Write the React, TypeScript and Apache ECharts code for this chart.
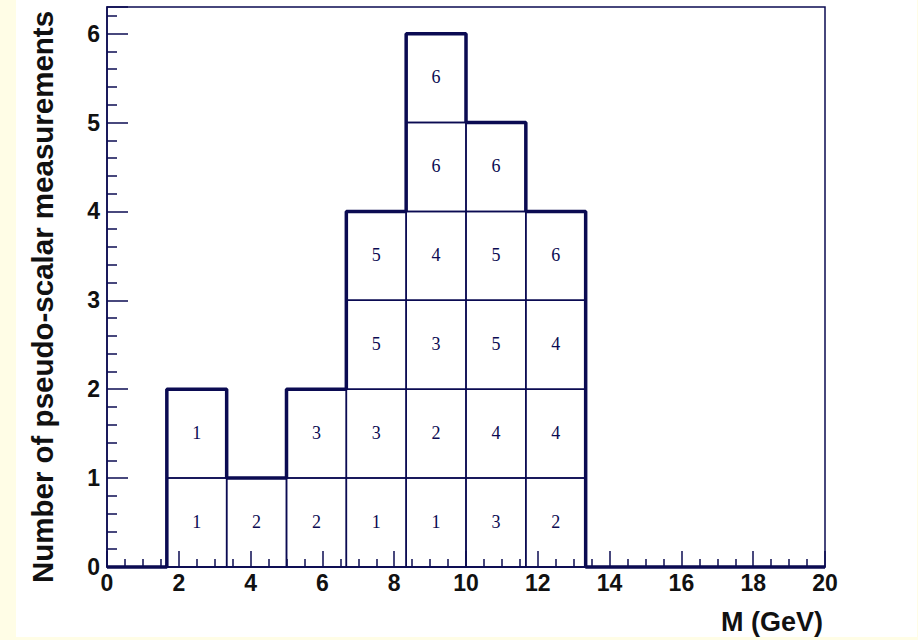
import React, { useEffect, useRef } from "react";
import * as echarts from "echarts";

// Histogram of pseudo-scalar mass measurements: 12 bins over 0–20 GeV.
const xMin = 0;
const xMax = 20;
const binCount = 12;
const counts = [0, 2, 1, 2, 4, 6, 5, 4, 0, 0, 0, 0];

// Identifier printed in each stacked unit cell, bottom to top, per bin.
const cellLabels: number[][] = [
  [],
  [1, 1],
  [2],
  [2, 3],
  [1, 3, 5, 5],
  [1, 2, 3, 4, 6, 6],
  [3, 4, 5, 5, 6],
  [2, 4, 4, 6],
  [],
  [],
  [],
  [],
];

const yMax = 6.3;
const xTitle = "M (GeV)";
const yTitle = "Number of pseudo-scalar measurements";

const NAVY = "#0b0b52";
const LABEL_FONT = "Liberation Sans";

export default function App() {
  const ref = useRef<HTMLDivElement>(null);

  useEffect(() => {
    if (!ref.current) return;
    const chart = echarts.init(ref.current, undefined, { renderer: "svg" });

    const binWidth = (xMax - xMin) / binCount;
    const edges = Array.from({ length: binCount + 1 }, (_, i) => xMin + i * binWidth);

    // step outline: one point per bin's low edge plus the closing edge
    const outline = counts.map((c, i) => [edges[i], c]);
    outline.push([edges[binCount], 0]);

    // one rectangle per unit of height: [low edge, row, id, high edge]
    const cells: number[][] = [];
    cellLabels.forEach((ids, bin) => {
      ids.forEach((id, row) => {
        cells.push([edges[bin], row, id, edges[bin + 1]]);
      });
    });

    const tickStyle = { color: NAVY, width: 1.5 };
    const labelStyle = {
      color: "#111",
      fontFamily: LABEL_FONT,
      fontWeight: "bold" as const,
      fontSize: 23,
    };

    chart.setOption({
      animation: false,
      backgroundColor: "#fffde6",
      graphic: [
        {
          type: "rect",
          z: -10,
          shape: { x: 16, y: 0, width: 901, height: 637 },
          style: { fill: "#ffffff" },
        },
        {
          type: "text",
          x: 823,
          y: 622,
          style: {
            text: xTitle,
            align: "right",
            verticalAlign: "middle",
            fontFamily: LABEL_FONT,
            fontWeight: "bold",
            fontSize: 27,
            fill: "#111",
          },
        },
        {
          type: "text",
          x: 42,
          y: 297,
          rotation: Math.PI / 2,
          style: {
            text: yTitle,
            align: "center",
            verticalAlign: "middle",
            fontFamily: LABEL_FONT,
            fontWeight: "bold",
            fontSize: 29.5,
            fill: "#111",
          },
        },
      ],
      grid: {
        left: 107,
        right: 93,
        top: 7,
        bottom: 73,
        show: true,
        borderColor: NAVY,
        borderWidth: 1.5,
        backgroundColor: "transparent",
      },
      xAxis: {
        type: "value",
        min: xMin,
        max: xMax,
        interval: 2,
        axisLine: { lineStyle: tickStyle },
        axisTick: { inside: true, length: 16, lineStyle: tickStyle },
        minorTick: { show: true, splitNumber: 4, length: 8, lineStyle: tickStyle },
        splitLine: { show: false },
        axisLabel: { ...labelStyle, margin: 4, showMinLabel: true, showMaxLabel: true },
      },
      yAxis: {
        type: "value",
        min: 0,
        max: yMax,
        interval: 1,
        axisLine: { show: true, lineStyle: tickStyle },
        axisTick: { show: true, inside: true, length: 21, lineStyle: tickStyle },
        minorTick: { show: true, splitNumber: 5, length: 10, lineStyle: tickStyle },
        splitLine: { show: false },
        axisLabel: {
          ...labelStyle,
          margin: 7,
          formatter: (v: number) => (Number.isInteger(v) ? String(v) : ""),
        },
      },
      series: [
        {
          type: "custom",
          data: cells,
          encode: { x: [0, 3], y: 1 },
          z: 3,
          renderItem: (_params: any, api: any) => {
            const x0 = api.value(0);
            const row = api.value(1);
            const id = api.value(2);
            const x1 = api.value(3);
            const tl = api.coord([x0, row + 1]);
            const br = api.coord([x1, row]);
            return {
              type: "group",
              children: [
                {
                  type: "rect",
                  shape: { x: tl[0], y: tl[1], width: br[0] - tl[0], height: br[1] - tl[1] },
                  style: { fill: "none", stroke: NAVY, lineWidth: 1.5 },
                },
                {
                  type: "text",
                  style: {
                    text: String(id),
                    x: (tl[0] + br[0]) / 2,
                    y: (tl[1] + br[1]) / 2 - 1,
                    align: "center",
                    verticalAlign: "middle",
                    fontFamily: "Liberation Serif",
                    fontSize: 18,
                    fill: NAVY,
                  },
                },
              ],
            };
          },
        },
        {
          type: "line",
          data: outline,
          step: "end",
          symbol: "none",
          clip: false,
          z: 4,
          lineStyle: { color: NAVY, width: 3.5 },
        },
      ],
    });

    return () => chart.dispose();
  }, []);

  return (
    <div
      ref={ref}
      style={{ position: "absolute", left: 0, top: 0, width: 918, height: 640 }}
    />
  );
}
